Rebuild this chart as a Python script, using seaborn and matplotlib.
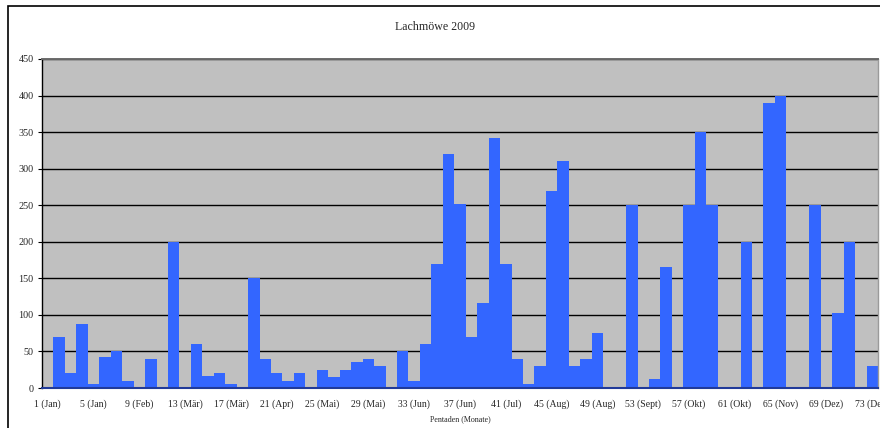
import matplotlib
matplotlib.use("Agg")
import matplotlib.pyplot as plt
import seaborn as sns
import pandas as pd
import numpy as np
from matplotlib.patches import Rectangle

# ---------------------------------------------------------
# DATA - counts per pentad (1..73)
# ---------------------------------------------------------
pentads = list(range(1, 74))
counts = [
    0, 70, 20, 88, 5, 43, 50, 10, 0, 40,
    0, 200, 0, 60, 17, 20, 5, 0, 150, 40,
    20, 10, 20, 0, 25, 15, 25, 35, 40, 30,
    0, 50, 10, 60, 170, 320, 252, 70, 116, 342,
    170, 40, 5, 30, 270, 310, 30, 40, 75, 2,
    0, 250, 0, 12, 165, 0, 250, 350, 250, 0,
    0, 200, 0, 390, 400, 0, 0, 250, 0, 103,
    200, 0, 30,
]
tick_labels = [
    "1 (Jan)", "5 (Jan)", "9 (Feb)", "13 (Mär)", "17 (Mär)", "21 (Apr)",
    "25 (Mai)", "29 (Mai)", "33 (Jun)", "37 (Jun)", "41 (Jul)", "45 (Aug)",
    "49 (Aug)", "53 (Sept)", "57 (Okt)", "61 (Okt)", "65 (Nov)", "69 (Dez)",
    "73 (Dez)",
]
yticks = [0, 50, 100, 150, 200, 250, 300, 350, 400, 450]

df = pd.DataFrame({"Pentade": pentads, "Anzahl": counts})

# ---------------------------------------------------------
# PLOT
# ---------------------------------------------------------
sns.set_style("white")
plt.rcParams["font.family"] = ["Liberation Serif", "DejaVu Serif"]

fig = plt.figure(figsize=(8.8, 4.28), dpi=100)
ax = fig.add_axes([42 / 880, 40 / 428, 836 / 880, 329 / 428])
ax.set_facecolor("#C0C0C0")

sns.barplot(x="Pentade", y="Anzahl", data=df, color="#3366FF",
            width=1.0, saturation=1, linewidth=0, ax=ax, zorder=3)

ax.set_xlim(-0.5, len(pentads) - 0.5)
ax.set_ylim(0, 450)
ax.set_yticks(yticks)
ax.set_yticklabels([str(v) for v in yticks], fontsize=7.3)
ax.yaxis.grid(True, color="black", linewidth=1, zorder=1)
ax.set_axisbelow(True)

# labels every 4th pentad, tick marks at category borders
ax.set_xticks(np.arange(0, len(pentads), 4))
ax.set_xticklabels(tick_labels, fontsize=7)
ax.set_xticks(np.arange(-0.5, len(pentads), 1), minor=True)
ax.tick_params(axis="x", which="major", length=0, pad=8)
ax.tick_params(axis="x", which="minor", length=3, width=0.8, color="black", direction="out")
ax.tick_params(axis="y", length=3, width=0.8, color="black", direction="out", left=True, pad=3)

ax.set_xlabel("Pentaden (Monate)", fontsize=5.8, labelpad=5)
ax.set_ylabel("")

ax.spines["top"].set_color("#6a6a6a")
ax.spines["top"].set_linewidth(1.4)
ax.spines["right"].set_color("#9a9a9a")
ax.spines["right"].set_linewidth(1.0)
ax.spines["left"].set_color("black")
ax.spines["left"].set_linewidth(1)
ax.spines["bottom"].set_color("#203a9a")
ax.spines["bottom"].set_linewidth(1.5)
for s in ax.spines.values():
    s.set_zorder(4)

fig.text(435 / 880, 1 - 27 / 428, "Lachmöwe 2009", ha="center", va="center", fontsize=8.6)

# outer chart frame (Excel chart area border)
fig.patches.append(Rectangle((8 / 880, -0.1), 1.2, 1 - 6 / 428 + 0.1,
                             transform=fig.transFigure, fill=False,
                             edgecolor="black", linewidth=1.2))

fig.savefig("out.png", dpi=100, facecolor="white")
